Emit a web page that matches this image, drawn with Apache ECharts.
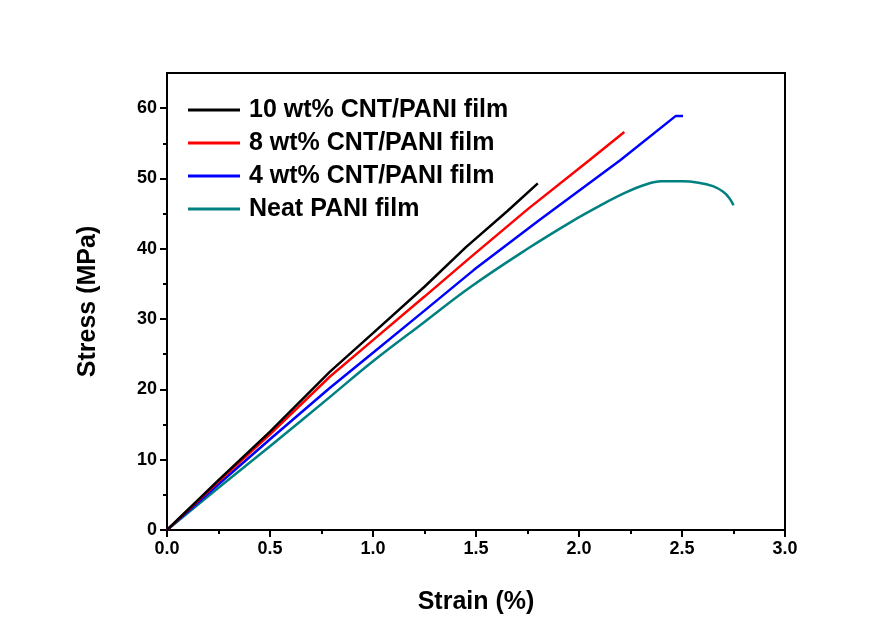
<!DOCTYPE html>
<html>
<head>
<meta charset="utf-8">
<script src="https://cdn.jsdelivr.net/npm/echarts@6/dist/echarts.min.js"></script>
<style>
  html, body { margin: 0; padding: 0; background: #fff; }
  #myChart { width: 894px; height: 629px; }
</style>
</head>
<body>
<div id="myChart"></div>
<script>
    /////////////////////////

    var seriesNames = ['10 wt% CNT/PANI film', '8 wt% CNT/PANI film', '4 wt% CNT/PANI film', 'Neat PANI film'];
    var seriesColors = ['#000000', '#ff0000', '#0000ff', '#008080'];

    // strain (%) / stress (MPa)
    var cnt10Strain = [0, 0.25, 0.5, 0.79, 1.0, 1.25, 1.45, 1.65, 1.8];
    var cnt10Stress = [0, 7.1, 14.0, 22.5, 28.0, 34.6, 40.2, 45.3, 49.3];

    var cnt8Strain = [0, 0.25, 0.5, 0.79, 1.0, 1.25, 1.47, 1.75, 2.05, 2.22];
    var cnt8Stress = [0, 6.9, 13.6, 21.8, 27.0, 33.2, 38.7, 45.6, 52.6, 56.6];

    var cnt4Strain = [0, 0.25, 0.5, 0.79, 1.0, 1.25, 1.49, 1.8, 2.2, 2.47, 2.505];
    var cnt4Stress = [0, 6.5, 12.9, 20.2, 25.2, 31.2, 37.0, 43.9, 52.6, 58.9, 58.9];

    var neatStrain = [0, 0.25, 0.5, 0.79, 1.0, 1.25, 1.47, 1.75, 1.96, 2.1, 2.22, 2.32, 2.4, 2.5, 2.58, 2.65, 2.7, 2.73, 2.75];
    var neatStress = [0, 6.0, 11.9, 18.9, 24.0, 29.6, 34.5, 40.0, 43.8, 46.1, 47.9, 49.1, 49.6, 49.6, 49.4, 48.9, 48.1, 47.2, 46.2];

    var yTickValues = [0, 10, 20, 30, 40, 50, 60];
    var yMax = 65;

    /////////////////////////

    var myChart;

    function toPairs(xs, ys) {
        var d = [];
        for (var i = 0; i < xs.length; i++) {
            d.push([xs[i], ys[i]]);
        }
        return d;
    }

    function makeSeries(idx, xs, ys, smooth) {
        return {
            name: seriesNames[idx],
            type: 'line',
            data: toPairs(xs, ys),
            symbol: 'none',
            smooth: smooth,
            lineStyle: { color: seriesColors[idx], width: 2.5 },
            itemStyle: { color: seriesColors[idx] },
            z: 10 - idx
        };
    }

    function initChartOptions() {
        var fontFamily = 'Arial, "Liberation Sans", sans-serif';
        var option = {
            backgroundColor: '#ffffff',
            animation: false,
            grid: {
                left: 167, top: 73, right: 109, bottom: 99,
                show: true, borderColor: '#000', borderWidth: 2
            },
            legend: {
                orient: 'vertical',
                left: 183, top: 92,
                icon: 'rect',
                itemWidth: 52, itemHeight: 3,
                itemGap: 7,
                data: seriesNames,
                textStyle: {
                    fontFamily: fontFamily, fontSize: 25, fontWeight: 'bold',
                    color: '#000', lineHeight: 26, padding: [0, 0, 0, 4]
                }
            },
            xAxis: {
                type: 'value',
                min: 0, max: 3, interval: 0.5,
                name: 'Strain (%)',
                nameLocation: 'middle',
                nameGap: 60,
                nameTextStyle: { fontFamily: fontFamily, fontSize: 25, fontWeight: 'bold', color: '#000' },
                axisLine: { lineStyle: { color: '#000', width: 2 } },
                axisTick: { length: 7, lineStyle: { color: '#000', width: 2 } },
                minorTick: { show: true, splitNumber: 2, length: 4, lineStyle: { color: '#000', width: 2 } },
                splitLine: { show: false },
                axisLabel: {
                    fontFamily: fontFamily, fontSize: 18, fontWeight: 'bold', color: '#000', margin: 10,
                    formatter: function (v) { return v.toFixed(1); }
                }
            },
            yAxis: {
                type: 'value',
                min: 0, max: yMax, interval: 10,
                name: 'Stress (MPa)',
                nameLocation: 'middle',
                nameGap: 66,
                nameTextStyle: { fontFamily: fontFamily, fontSize: 25, fontWeight: 'bold', color: '#000' },
                axisLine: { lineStyle: { color: '#000', width: 2 } },
                axisTick: { length: 7, customValues: yTickValues, lineStyle: { color: '#000', width: 2 } },
                minorTick: { show: true, splitNumber: 2, length: 4, lineStyle: { color: '#000', width: 2 } },
                splitLine: { show: false },
                axisLabel: {
                    fontFamily: fontFamily, fontSize: 18, fontWeight: 'bold', color: '#000', margin: 10,
                    customValues: yTickValues
                }
            },
            series: [
                makeSeries(0, cnt10Strain, cnt10Stress, false),
                makeSeries(1, cnt8Strain, cnt8Stress, false),
                makeSeries(2, cnt4Strain, cnt4Stress, false),
                makeSeries(3, neatStrain, neatStress, 0.4)
            ]
        };
        return option;
    }

    myChart = echarts.init(document.getElementById('myChart'));
    myChart.setOption(initChartOptions());
</script>
</body>
</html>
